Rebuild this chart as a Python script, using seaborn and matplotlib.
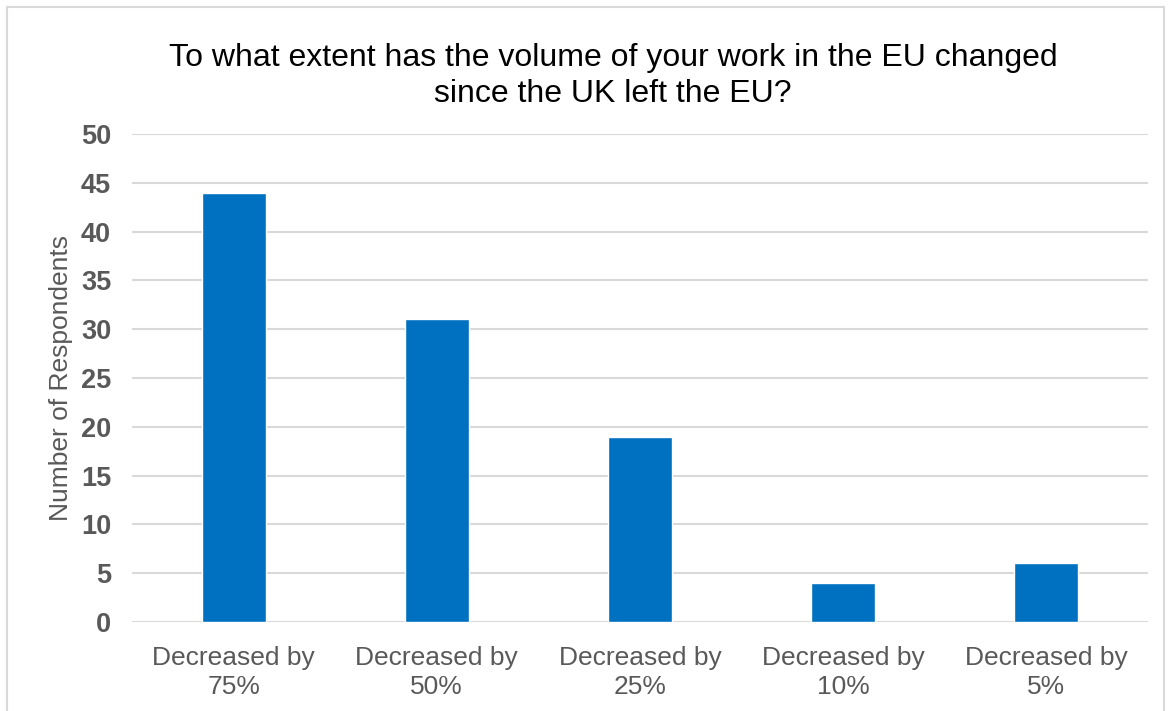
import matplotlib
matplotlib.use("Agg")
import matplotlib.pyplot as plt
import seaborn as sns
import pandas as pd
from matplotlib.patches import Rectangle

categories = ["Decreased by\n75%", "Decreased by\n50%", "Decreased by\n25%",
              "Decreased by\n10%", "Decreased by\n5%"]
respondents = [44, 31, 19, 4, 6]
y_ticks = [0, 5, 10, 15, 20, 25, 30, 35, 40, 45, 50]

sns.set_theme(style="white")
plt.rcParams["font.family"] = ["Liberation Sans", "DejaVu Sans"]

df = pd.DataFrame({"category": categories, "count": respondents})

fig = plt.figure(figsize=(11.7, 7.11), dpi=100)
ax = fig.add_axes([132 / 1170, 1 - 622 / 711, 1016 / 1170, 488 / 711])

sns.barplot(data=df, x="category", y="count", color="#0070C0", width=0.315,
            saturation=1, ax=ax, zorder=3)

ax.set_ylim(0, 50)
ax.set_yticks(y_ticks)
ax.set_xlim(-0.5, len(categories) - 0.5)
ax.yaxis.grid(True, color="#D9D9D9", linewidth=1.5, zorder=0)
ax.set_axisbelow(True)
for s in ax.spines.values():
    s.set_visible(False)

ax.tick_params(axis="y", length=0, pad=15, labelsize=19.5, labelcolor="#595959")
ax.tick_params(axis="x", length=0, pad=17, labelsize=19, labelcolor="#595959")
for t in ax.get_yticklabels():
    t.set_fontweight("bold")
for t in ax.get_xticklabels():
    t.set_linespacing(1.3)

ax.set_xlabel("")
ax.set_ylabel("Number of Respondents", fontsize=19, color="#595959", labelpad=6)

fig.text(0.524, 1 - 76 / 711,
         "To what extent has the volume of your work in the EU changed\nsince the UK left the EU?",
         ha="center", va="center", fontsize=23, color="#000000", linespacing=1.25)

# light frame around the chart area
fig.patches.append(Rectangle((7 / 1170, -0.05), 1157 / 1170, 1.05 - 7 / 711,
                             transform=fig.transFigure, fill=False,
                             edgecolor="#D9D9D9", linewidth=1.5))

fig.savefig("out.png", dpi=100)
